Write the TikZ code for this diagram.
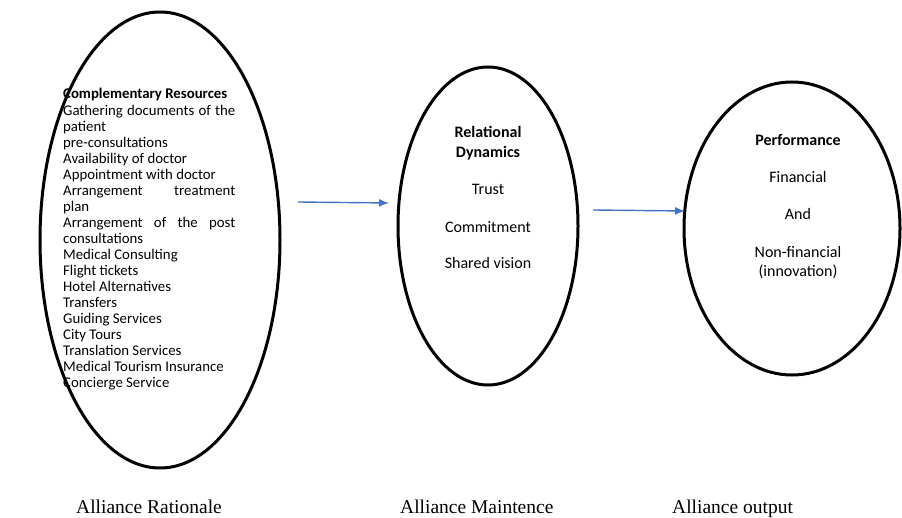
\documentclass[tikz,border=0pt]{standalone}
\usepackage{fontspec}
\setmainfont{Carlito}
\newfontfamily\timesfont{Liberation Serif}
\usetikzlibrary{shapes.geometric,arrows.meta}
\definecolor{arrowblue}{HTML}{4472C4}
\tikzset{
  oval/.style={ellipse, draw=black, line width=3pt, inner sep=0pt},
  flow/.style={draw=arrowblue, line width=1.4pt, -{Latex[length=10pt,width=8pt]}},
  body/.style={font=\fontsize{16}{19}\selectfont, align=center, inner sep=0pt},
  caption/.style={font=\timesfont\fontsize{19.5}{22}\selectfont, inner sep=0pt, anchor=base west}
}
\begin{document}
\begin{tikzpicture}[x=1pt,y=-1pt]
\useasboundingbox (0,0) rectangle (902,518);
\node[oval, minimum width=240pt, minimum height=456pt] (e1) at (160,240) {};
\node[oval, minimum width=180pt, minimum height=318pt] (e2) at (488,226) {};
\node[oval, minimum width=216pt, minimum height=293pt] (e3) at (792,228.5) {};

\node[anchor=base west, inner sep=0pt, font=\fontsize{14.8}{16.05}\selectfont,
  text width=172pt, align=justify] (t1) at (63,99) {%
\textbf{Complementary Resources}\par
Gathering documents of the\linebreak patient\par
pre-consultations\par
Availability of doctor\par
Appointment with doctor\par
Arrangement treatment\linebreak plan\par
Arrangement of the post\linebreak consultations\par
Medical Consulting\par
Flight tickets\par
Hotel Alternatives\par
Transfers\par
Guiding Services\par
City Tours\par
Translation Services\par
Medical Tourism Insurance\par
Concierge Service};

\node[body] (r1) at (488,132) {\textbf{Relational}};
\node[body] (r2) at (488,153) {\textbf{Dynamics}};
\node[body] (r3) at (488,189) {Trust};
\node[body] (r4) at (488,227) {Commitment};
\node[body] (r5) at (488,263) {Shared vision};

\node[body] (p1) at (798,140) {\textbf{Performance}};
\node[body] (p2) at (798,177) {Financial};
\node[body] (p3) at (798,214) {And};
\node[body] (p4) at (798,252) {Non-financial};
\node[body] (p5) at (798,272) {(innovation)};

\coordinate (a1s) at (298,202);
\coordinate (a1e) at (389,203);
\coordinate (a2s) at (593,210);
\coordinate (a2e) at (685,211);
\draw[flow] (a1s) -- (a1e);
\draw[flow] (a2s) -- (a2e);

\node[caption] (c1) at (76,513) {Alliance Rationale};
\node[caption] (c2) at (400,513) {Alliance Maintence};
\node[caption] (c3) at (672,513) {Alliance output};
\end{tikzpicture}
\end{document}
